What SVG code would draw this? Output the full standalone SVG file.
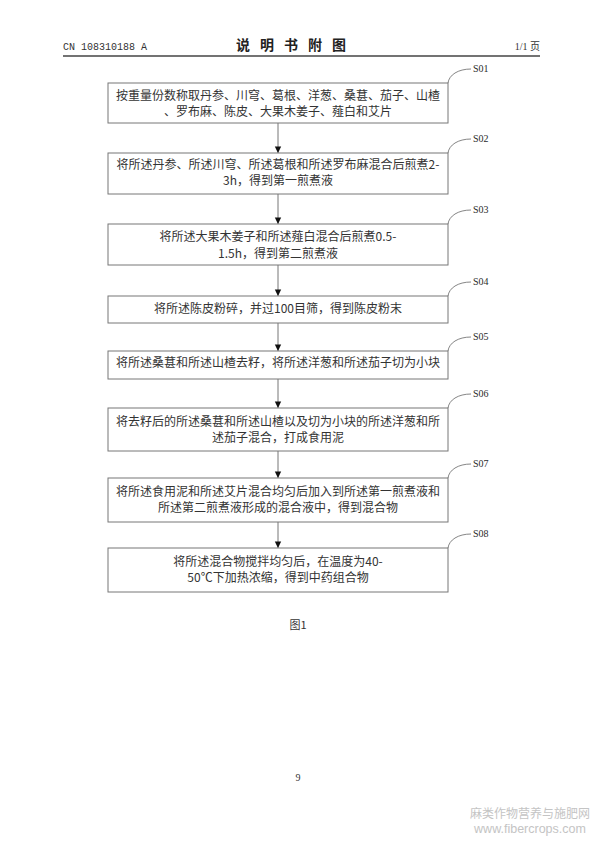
<svg xmlns="http://www.w3.org/2000/svg" width="595" height="842" viewBox="0 0 595 842">
<defs>
<style>
.box{fill:#fff;stroke:#777;stroke-width:1}
.t{font-family:"Noto Sans CJK SC","Liberation Serif",serif;font-size:12px;fill:#333;text-anchor:middle}
.lbl{font-family:"Liberation Serif",serif;font-size:10px;fill:#2a2a2a}
.lead{fill:none;stroke:#666;stroke-width:0.8}
.conn{stroke:#666;stroke-width:0.9;fill:none}
</style>
<marker id="ah" viewBox="0 0 8 10" refX="8" refY="5" markerWidth="8" markerHeight="8" markerUnits="userSpaceOnUse" orient="auto">
<path d="M0,1 L8,5 L0,9 Z" fill="#111"/>
</marker>
</defs>
<rect width="595" height="842" fill="#fff"/>
<g id="header">
<text x="63" y="50" font-family="Liberation Mono,monospace" font-size="10" fill="#333">CN 108310188 A</text>
<text x="296" y="50" font-family="Noto Sans CJK SC,sans-serif" font-size="14" font-weight="bold" fill="#222" text-anchor="middle" letter-spacing="10">说明书附图</text>
<text x="540" y="50" font-family="Liberation Serif,Noto Sans CJK SC,serif" font-size="10" fill="#333" text-anchor="end">1/1 页</text>
<line x1="63" y1="56" x2="540" y2="56" stroke="#444" stroke-width="1.5"/>
</g>
<g id="connectors">
<line class="conn" x1="278" y1="123" x2="278" y2="153" marker-end="url(#ah)"/>
<line class="conn" x1="278" y1="194" x2="278" y2="224" marker-end="url(#ah)"/>
<line class="conn" x1="278" y1="265" x2="278" y2="296" marker-end="url(#ah)"/>
<line class="conn" x1="278" y1="323" x2="278" y2="351" marker-end="url(#ah)"/>
<line class="conn" x1="278" y1="379" x2="278" y2="408" marker-end="url(#ah)"/>
<line class="conn" x1="278" y1="451" x2="278" y2="478" marker-end="url(#ah)"/>
<line class="conn" x1="278" y1="522" x2="278" y2="548" marker-end="url(#ah)"/>
</g>
<g id="S01">
<rect class="box" x="108" y="83" width="340" height="40"/>
<path class="lead" d="M448,83 C449,75 458,69 471,69"/>
<text class="lbl" x="473" y="72">S01</text>
<text class="t" x="278" y="100">按重量份数称取丹参、川穹、葛根、洋葱、桑葚、茄子、山楂</text>
<text class="t" x="278" y="116">、罗布麻、陈皮、大果木姜子、薤白和艾片</text>
</g>
<g id="S02">
<rect class="box" x="108" y="153" width="340" height="41"/>
<path class="lead" d="M448,153 C449,145 458,139 471,139"/>
<text class="lbl" x="473" y="142">S02</text>
<text class="t" x="278" y="169">将所述丹参、所述川穹、所述葛根和所述罗布麻混合后煎煮2-</text>
<text class="t" x="278" y="185">3h，得到第一煎煮液</text>
</g>
<g id="S03">
<rect class="box" x="108" y="224" width="340" height="41"/>
<path class="lead" d="M448,224 C449,216 458,210 471,210"/>
<text class="lbl" x="473" y="213">S03</text>
<text class="t" x="278" y="241">将所述大果木姜子和所述薤白混合后煎煮0.5-</text>
<text class="t" x="278" y="258">1.5h，得到第二煎煮液</text>
</g>
<g id="S04">
<rect class="box" x="108" y="296" width="340" height="27"/>
<path class="lead" d="M448,296 C449,288 458,282 471,282"/>
<text class="lbl" x="473" y="285">S04</text>
<text class="t" x="278" y="313">将所述陈皮粉碎，并过100目筛，得到陈皮粉末</text>
</g>
<g id="S05">
<rect class="box" x="108" y="351" width="340" height="28"/>
<path class="lead" d="M448,351 C449,343 458,337 471,337"/>
<text class="lbl" x="473" y="340">S05</text>
<text class="t" x="278" y="367">将所述桑葚和所述山楂去籽，将所述洋葱和所述茄子切为小块</text>
</g>
<g id="S06">
<rect class="box" x="108" y="408" width="340" height="43"/>
<path class="lead" d="M448,408 C449,400 458,394 471,394"/>
<text class="lbl" x="473" y="397">S06</text>
<text class="t" x="278" y="426">将去籽后的所述桑葚和所述山楂以及切为小块的所述洋葱和所</text>
<text class="t" x="278" y="442">述茄子混合，打成食用泥</text>
</g>
<g id="S07">
<rect class="box" x="108" y="478" width="340" height="44"/>
<path class="lead" d="M448,478 C449,470 458,464 471,464"/>
<text class="lbl" x="473" y="467">S07</text>
<text class="t" x="278" y="496">将所述食用泥和所述艾片混合均匀后加入到所述第一煎煮液和</text>
<text class="t" x="278" y="512">所述第二煎煮液形成的混合液中，得到混合物</text>
</g>
<g id="S08">
<rect class="box" x="108" y="548" width="340" height="44"/>
<path class="lead" d="M448,548 C449,540 458,534 471,534"/>
<text class="lbl" x="473" y="537">S08</text>
<text class="t" x="278" y="566">将所述混合物搅拌均匀后，在温度为40-</text>
<text class="t" x="278" y="582">50℃下加热浓缩，得到中药组合物</text>
</g>
<g id="footer">
<text x="298" y="629" font-family="Noto Sans CJK SC,Liberation Serif,serif" font-size="11" fill="#333" text-anchor="middle">图1</text>
<text x="298" y="781" font-family="Liberation Serif,serif" font-size="10" fill="#333" text-anchor="middle">9</text>
<text x="530" y="818" font-family="Noto Sans CJK SC,sans-serif" font-size="12" fill="#c4c4c4" text-anchor="middle">麻类作物营养与施肥网</text>
<text x="530" y="833" font-family="Liberation Sans,sans-serif" font-size="12.5" fill="#c4c4c4" text-anchor="middle">www.fibercrops.com</text>
</g>
</svg>
